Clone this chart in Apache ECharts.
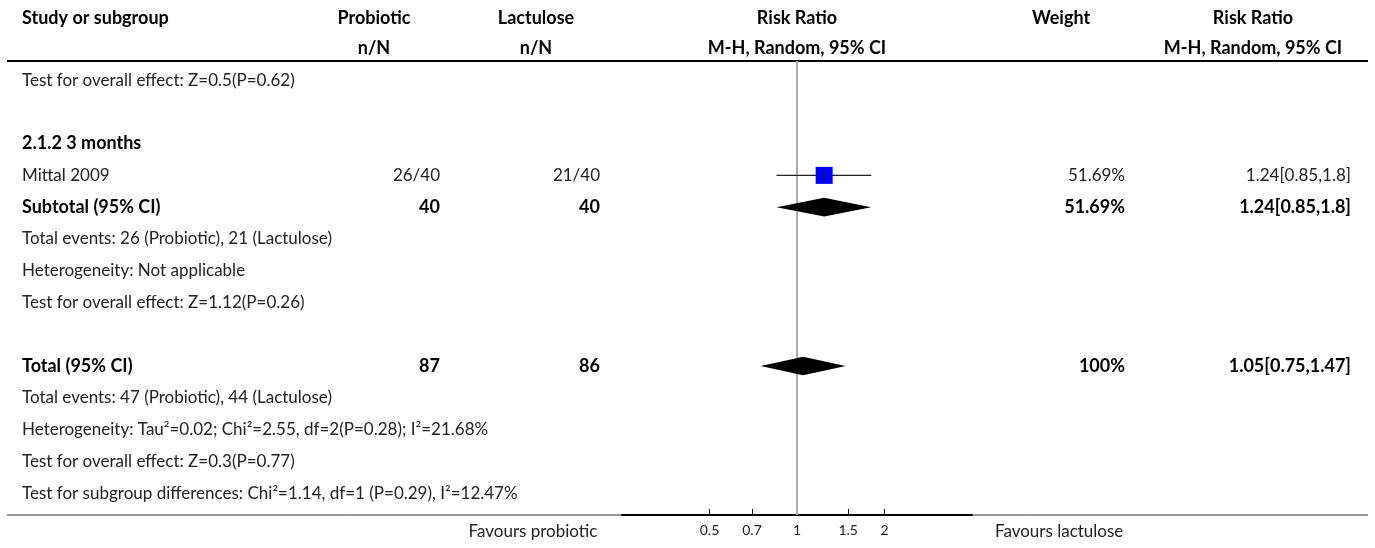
<!DOCTYPE html>
<html><head><meta charset="utf-8">
<script src="https://cdn.jsdelivr.net/npm/echarts@6/dist/echarts.min.js"></script>
<style>html,body{margin:0;padding:0;background:#fff}#c{width:1375px;height:548px}</style>
</head><body><div id="c"></div>
<script>
// ---------- data ----------
const rowLabels = [
  "Test for overall effect: Z=0.5(P=0.62)",
  "",
  "2.1.2 3 months",
  "Mittal 2009",
  "Subtotal (95% CI)",
  "Total events: 26 (Probiotic), 21 (Lactulose)",
  "Heterogeneity: Not applicable",
  "Test for overall effect: Z=1.12(P=0.26)",
  "",
  "Total (95% CI)",
  "Total events: 47 (Probiotic), 44 (Lactulose)",
  "Heterogeneity: Tau\u00b2=0.02; Chi\u00b2=2.55, df=2(P=0.28); I\u00b2=21.68%",
  "Test for overall effect: Z=0.3(P=0.77)",
  "Test for subgroup differences: Chi\u00b2=1.14, df=1 (P=0.29), I\u00b2=12.47%"
];
const boldRows = [2, 4, 9];
const probioticCol = ["", "", "", "26/40", "40", "", "", "", "", "87", "", "", "", ""];
const lactuloseCol = ["", "", "", "21/40", "40", "", "", "", "", "86", "", "", "", ""];
const weightCol    = ["", "", "", "51.69%", "51.69%", "", "", "", "", "100%", "", "", "", ""];
const rrCol        = ["", "", "", "1.24[0.85,1.8]", "1.24[0.85,1.8]", "", "", "", "", "1.05[0.75,1.47]", "", "", "", ""];

const studyRows = [3];
const studyEst = [1.24];
const studyLo = [0.85];
const studyHi = [1.8];

const diamondRows = [4, 9];
const diamondEst = [1.24, 1.05];
const diamondLo = [0.85, 0.75];
const diamondHi = [1.8, 1.47];

const tickValues = [0.5, 0.7, 1, 1.5, 2];
const headerTop = ["Study or subgroup", "Probiotic", "Lactulose", "Risk Ratio", "Weight", "Risk Ratio"];
const headerBottom = ["", "n/N", "n/N", "M-H, Random, 95% CI", "", "M-H, Random, 95% CI"];
const favoursLeft = "Favours probiotic";
const favoursRight = "Favours lactulose";

// ---------- layout ----------
const FONT = "Lato";
const FS = 17;
const FSB = 18;
const yMin = -0.6, yMax = 13.69;
const colX = { label: 22, prob: 440, lact: 600, weight: 1125, rr: 1351 };
const headX = [22, 374, 536, 797, 1061, 1253];
const headAlign = ['left', 'center', 'center', 'center', 'center', 'center'];

const chart = echarts.init(document.getElementById('c'), null, { renderer: 'canvas' });

function txt(x, y, text, align, bold, size, color) {
  return {
    type: 'text',
    style: {
      x: x, y: y, text: text,
      align: align, verticalAlign: 'middle',
      fontFamily: FONT, fontSize: size || (bold ? FSB : FS),
      fontWeight: bold ? 'bold' : 'normal',
      fill: color || '#222'
    }
  };
}

const tableData = rowLabels.map((_, i) => [1, i]);

const option = {
  animation: false,
  grid: { left: 622, width: 350, top: 61, bottom: 33, containLabel: false },
  xAxis: {
    type: 'log', logBase: 10, min: 0.25, max: 4,
    axisLine: { show: true, onZero: false, lineStyle: { color: '#000', width: 2 } },
    axisTick: { show: true, inside: true, length: 6, customValues: tickValues, lineStyle: { color: '#000', width: 1 } },
    axisLabel: { show: true, customValues: tickValues, margin: 8, fontFamily: FONT, fontSize: 14, color: '#222',
      formatter: v => String(+v.toFixed(2)) },
    splitLine: { show: false }
  },
  yAxis: { type: 'value', inverse: true, min: yMin, max: yMax, show: false },
  graphic: [
    { type: 'line', shape: { x1: 7, y1: 61, x2: 1368, y2: 61 }, style: { stroke: '#000', lineWidth: 2 } },
    { type: 'line', shape: { x1: 7, y1: 515, x2: 1368, y2: 515 }, style: { stroke: '#333', lineWidth: 1 } },
    txt(533, 532, favoursLeft, 'center', false, FS),
    txt(995, 532, favoursRight, 'left', false, FS)
  ].concat(headerTop.map((t, i) => txt(headX[i], 18, t, headAlign[i], true, FSB, '#000')))
   .concat(headerBottom.map((t, i) => txt(headX[i], 48, t, headAlign[i], true, FSB, '#000'))),
  series: [
    {
      type: 'custom',
      data: [[1, yMin, yMax]],
      renderItem: function (params, api) {
        const a = api.coord([api.value(0), api.value(1)]);
        const b = api.coord([api.value(0), api.value(2)]);
        return { type: 'line', shape: { x1: a[0], y1: a[1], x2: b[0], y2: b[1] },
          style: { stroke: '#aaaaaa', lineWidth: 2 } };
      },
      z: 1
    },
    {
      type: 'custom',
      data: tableData,
      clip: false,
      renderItem: function (params, api) {
        const i = api.value(1);
        const y = api.coord([1, i])[1];
        const bold = boldRows.indexOf(i) >= 0;
        const col = bold ? '#000' : '#222';
        return {
          type: 'group',
          children: [
            txt(colX.label, y, rowLabels[i], 'left', bold, null, col),
            txt(colX.prob, y, probioticCol[i], 'right', bold, null, col),
            txt(colX.lact, y, lactuloseCol[i], 'right', bold, null, col),
            txt(colX.weight, y, weightCol[i], 'right', bold, null, col),
            txt(colX.rr, y, rrCol[i], 'right', bold, null, col)
          ]
        };
      },
      z: 5
    },
    {
      type: 'custom',
      data: studyRows.map((r, k) => [studyEst[k], r, studyLo[k], studyHi[k]]),
      renderItem: function (params, api) {
        const c = api.coord([api.value(0), api.value(1)]);
        const lo = api.coord([api.value(2), api.value(1)]);
        const hi = api.coord([api.value(3), api.value(1)]);
        const s = 17;
        return {
          type: 'group',
          children: [
            { type: 'line', shape: { x1: lo[0], y1: lo[1], x2: hi[0], y2: hi[1] }, style: { stroke: '#222', lineWidth: 1.3 } },
            { type: 'rect', shape: { x: c[0] - s / 2, y: c[1] - s / 2, width: s, height: s }, style: { fill: '#0000ff' } },
            { type: 'line', shape: { x1: c[0], y1: c[1] - 4, x2: c[0], y2: c[1] + 4 }, style: { stroke: '#222', lineWidth: 1 } }
          ]
        };
      },
      z: 3
    },
    {
      type: 'custom',
      data: diamondRows.map((r, k) => [diamondEst[k], r, diamondLo[k], diamondHi[k]]),
      renderItem: function (params, api) {
        const c = api.coord([api.value(0), api.value(1)]);
        const lo = api.coord([api.value(2), api.value(1)]);
        const hi = api.coord([api.value(3), api.value(1)]);
        const h = 9.3;
        return {
          type: 'polygon',
          shape: { points: [[lo[0], c[1]], [c[0], c[1] - h], [hi[0], c[1]], [c[0], c[1] + h]] },
          style: { fill: '#000' }
        };
      },
      z: 3
    }
  ]
};
chart.setOption(option);
</script>
</body></html>
